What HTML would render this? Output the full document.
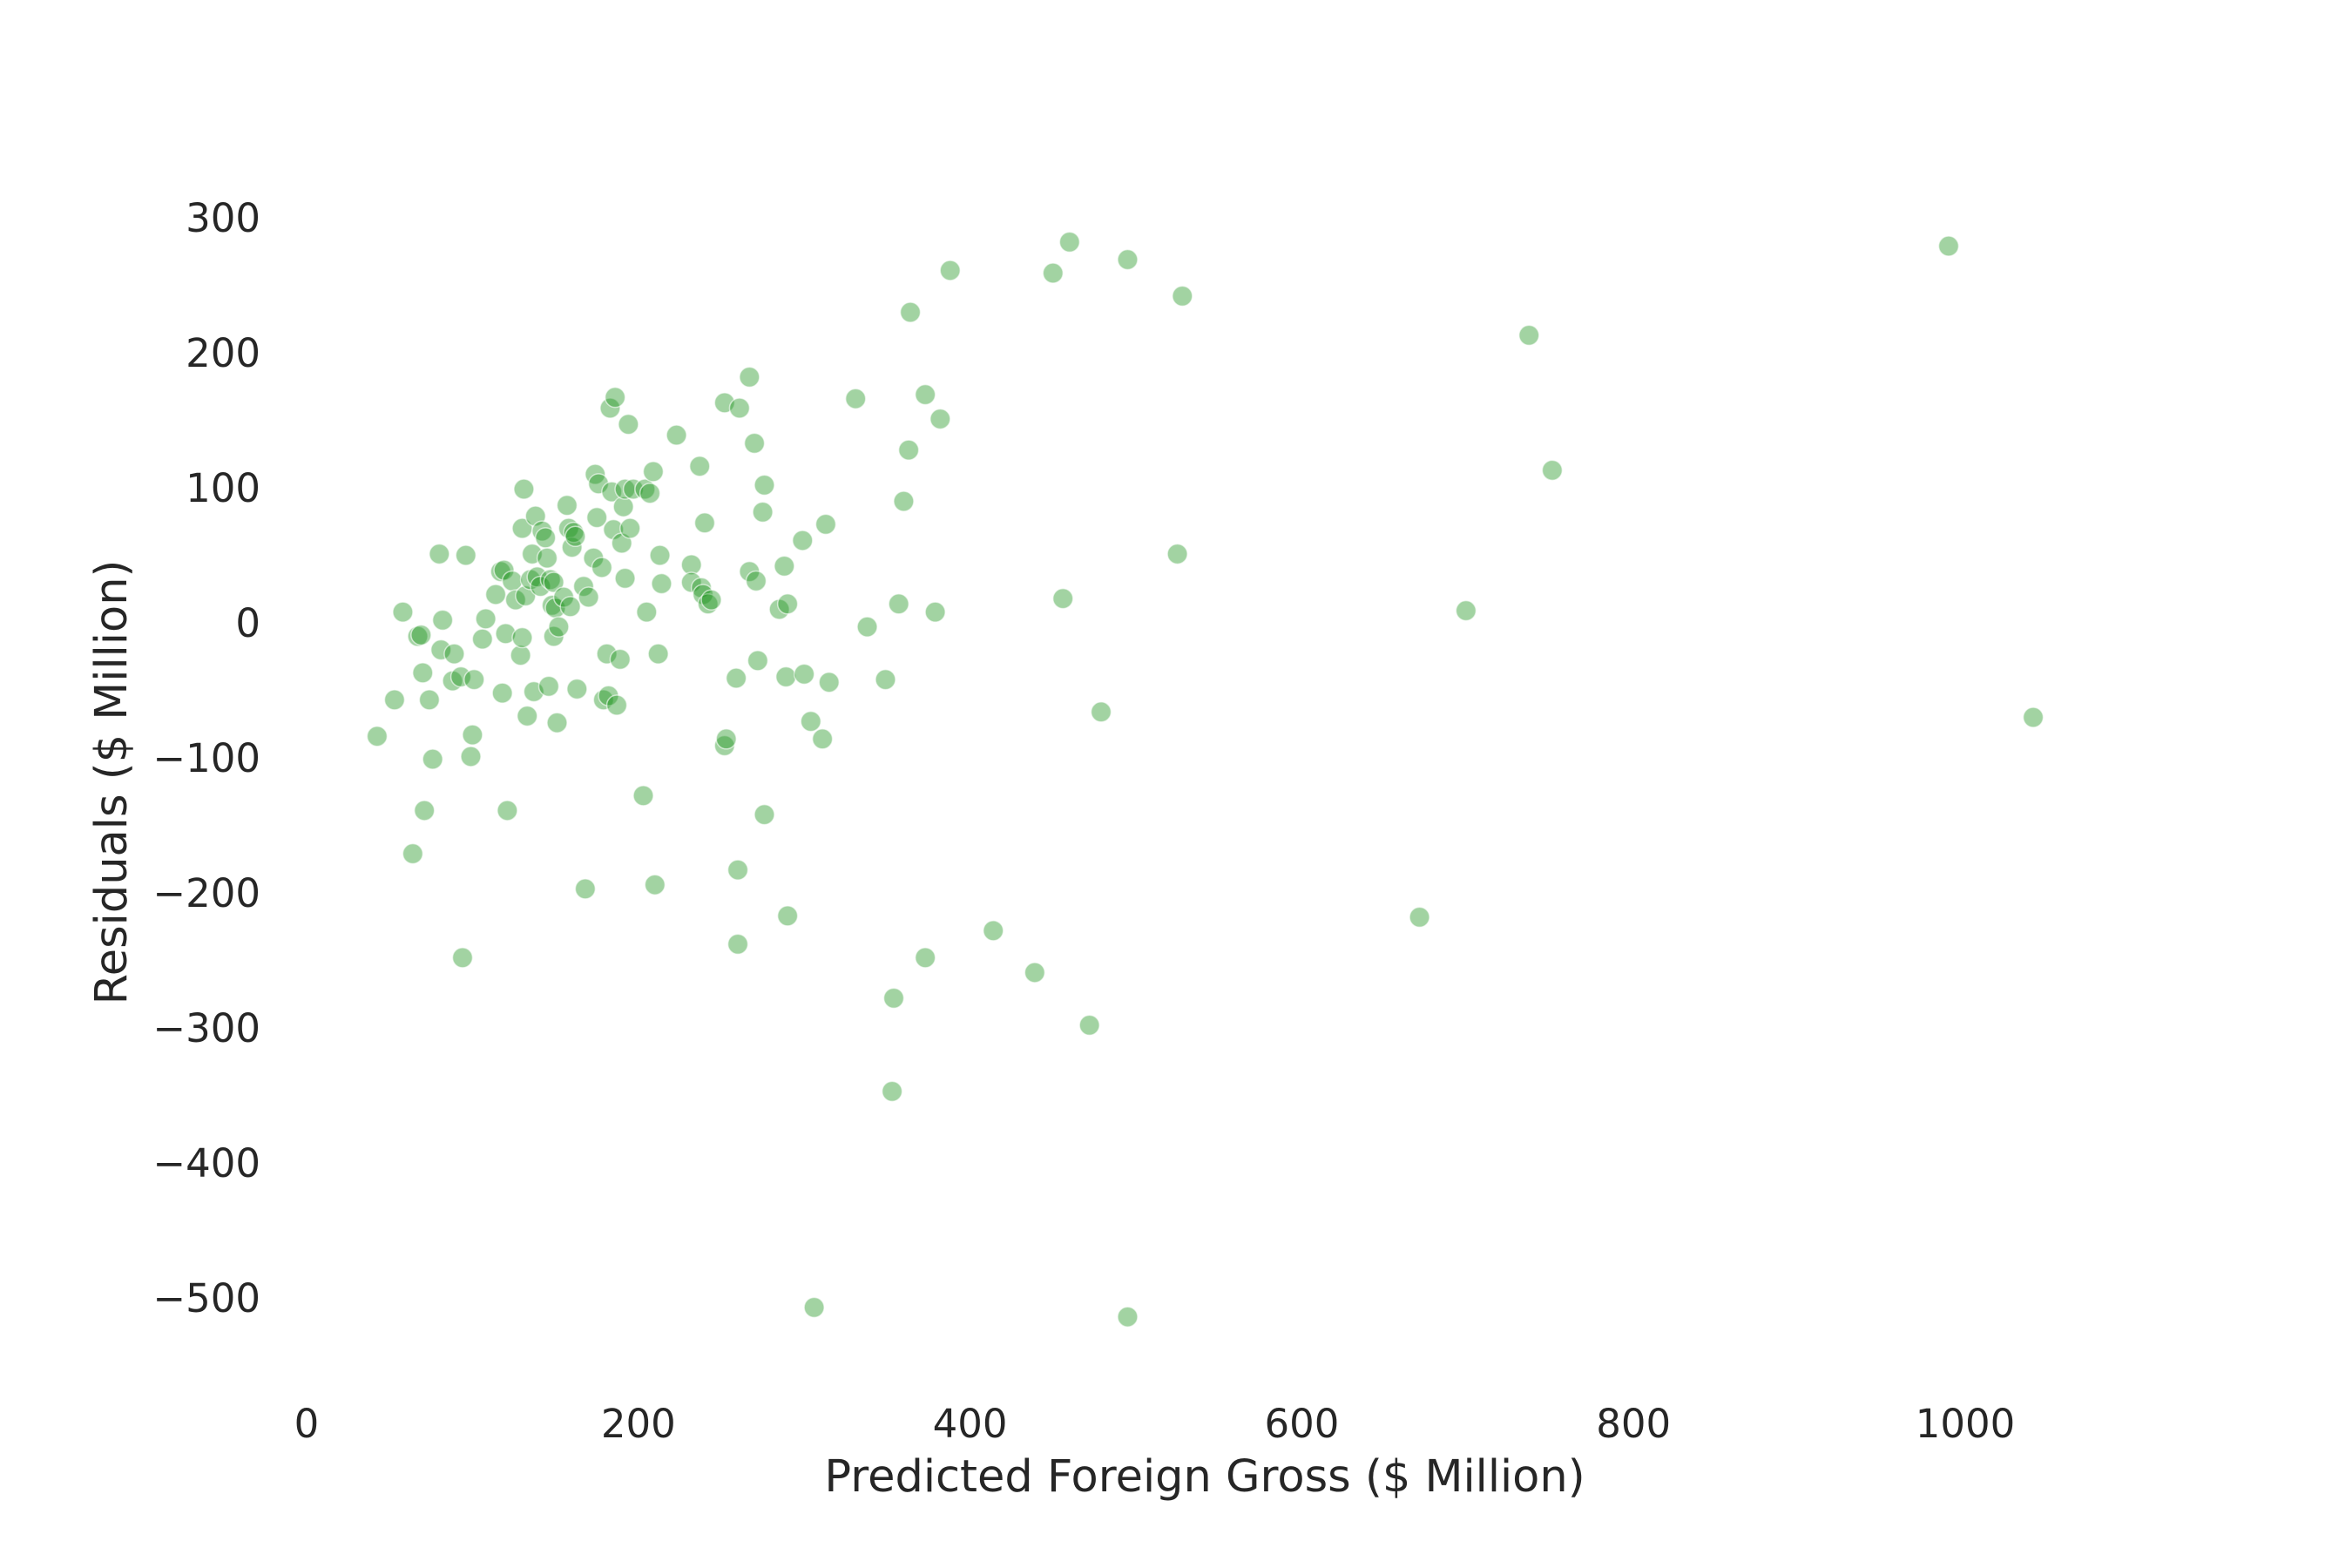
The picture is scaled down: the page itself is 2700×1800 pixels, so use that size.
<!DOCTYPE html>
<html><head><meta charset="utf-8"><style>
html,body{margin:0;padding:0;background:#fff}
svg{display:block}
text{font-family:"DejaVu Sans","Liberation Sans",sans-serif;fill:#262626}
</style></head><body>
<svg id="chart" width="2700" height="1800" viewBox="0 0 2700 1800">
<g id="yticks"></g>
<g id="xticks"></g>
<g id="points"></g>
<text x="1383" y="1712" text-anchor="middle" font-size="51">Predicted Foreign Gross ($ Million)</text>
<text transform="translate(145,898) rotate(-90)" text-anchor="middle" font-size="51">Residuals ($ Million)</text>
</svg>
<script>
const xTicks=[0,200,400,600,800,1000];
const yTicks=[300,200,100,0,-100,-200,-300,-400,-500];
const predicted=[42.5,53,58,64,67,69,70,71,74,76,80,81,82,88,89,93,94,96,99,100,101,106,108,114,117,118,119,120,121,124,126,129,130,130,131,132,133,135,136,137,138,139,141,142,144,145,146,147,148,149,149,150,151,152,155,157,158,159,160,161,162,163,167,168,170,173,174,175,176,178,179,181,182,183,184,185,186,187,189,190,191,192,192,194,195,197,203,204,205,207,209,210,212,213,214,223,232,232,237,238,239,240,242,244,252,252,253,259,260,260,261,267,267,270,271,272,275,276,276,285,288,289,290,290,299,300,304,306,311,313,315,331,338,349,353,354,357,360,363,364,373,373,379,382,388,414,439,450,456,460,472,479,495,495,525,528,671,699,737,751,990,1041];
const residuals=[-84,-57,8,-171,-10,-9,-37,-139,-57,-101,51,-20,2,-43,-23,-40,-248,50,-99,-83,-42,-12,3,21,38,-52,39,-8,-139,31,17,-24,70,-11,99,20,-69,32,51,-51,79,34,27,68,63,48,-47,32,13,-10,30,11,-74,-3,19,87,70,12,56,67,64,-49,27,-197,19,48,110,78,103,41,-57,-23,-54,159,97,69,167,-61,-27,59,86,33,99,147,70,99,-128,99,8,96,112,-194,-23,50,29,139,43,30,116,26,21,74,14,17,163,-91,-86,-41,-183,-238,159,182,38,133,31,-28,82,102,-142,10,42,-40,14,-217,61,-38,-73,-507,-86,73,-44,166,-3,-42,-347,-278,14,90,128,230,169,-248,8,151,261,-228,-259,259,18,282,-298,-66,269,-514,51,242,-218,9,213,113,279,-70];
const X0=352,XS=1.904,Y0=715,YS=1.55;
const sx=v=>X0+v*XS, sy=v=>Y0-v*YS;
const NS='http://www.w3.org/2000/svg';
const yg=document.getElementById('yticks'), xg=document.getElementById('xticks'), pg=document.getElementById('points');
yTicks.forEach(t=>{
  const e=document.createElementNS(NS,'text');
  e.setAttribute('x',299);e.setAttribute('y',sy(t)+16);e.setAttribute('text-anchor','end');e.setAttribute('font-size','45');
  e.textContent=t<0?'\u2212'+Math.abs(t):String(t);
  
  
  yg.appendChild(e);
});
xTicks.forEach(t=>{
  const e=document.createElementNS(NS,'text');
  e.setAttribute('x',sx(t));e.setAttribute('y',1650);e.setAttribute('text-anchor','middle');e.setAttribute('font-size','45');
  e.textContent=String(t);
  
  
  xg.appendChild(e);
});
predicted.forEach((p,i)=>{
  const c=document.createElementNS(NS,'circle');
  c.setAttribute('cx',sx(p));c.setAttribute('cy',sy(residuals[i]));c.setAttribute('r',11.5);
  c.setAttribute('fill','rgba(34,150,34,0.42)');c.setAttribute('stroke','rgba(255,255,255,0.6)');c.setAttribute('stroke-width','1.5');
  
  
  pg.appendChild(c);
});
</script>
</body></html>
